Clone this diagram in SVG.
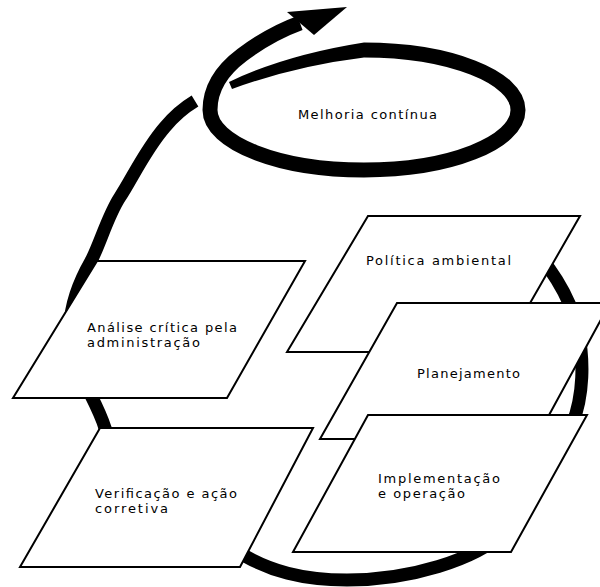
<svg xmlns="http://www.w3.org/2000/svg" width="600" height="587" viewBox="0 0 600 587">
<style>
.box{fill:#fff;stroke:#000;stroke-width:2;stroke-linejoin:miter}
.lbl{font-family:"DejaVu Sans","Liberation Sans",Arial,sans-serif;font-size:13px;fill:#000}
.loop{fill:none;stroke:#000;stroke-linecap:butt}
.ink{fill:#000;stroke:none}
</style>
<rect width="600" height="587" fill="#fff"/>
<g id="connectors">
  <path id="cycle" class="loop" stroke-width="13" d="M 522,238 C 548,262 570,295 578,330 C 584,360 584,395 572,425 C 556,455 538,498 505,532 C 475,560 410,580 347,580 C 300,580 270,570 245,556 C 215,539 118,470 105,428 C 95,395 68,365 70,325 C 71,305 79,282 91,261 C 100,244 108,215 120,197 C 132,179 145,150 165,127 C 175,115 185,107 195,101"/>
  <path id="spiral" class="loop" stroke-width="15" d="M 364,50 C 449,50 518,77 518,110 C 518,143 449,170 364,170 C 279,170 210,143 210,110 C 210,88 222,70 242,55 C 258,43 278,31 300,23"/>
  <path id="spiral-taper" class="ink" d="M 229,82 Q 285,55 364,42.5 L 364,57.5 Q 295,66 232,89 Z"/>
  <polygon id="arrowhead" class="ink" points="287,12 347,7 314,35"/>
</g>
<g id="melhoria">
  <text class="lbl" x="298" y="119" textLength="139" lengthAdjust="spacing">Melhoria contínua</text>
</g>
<g id="analise">
  <polygon class="box" points="97,261 305,261 227,398 13,398"/>
  <text class="lbl" x="87" y="332" textLength="150" lengthAdjust="spacing">Análise crítica pela</text>
  <text class="lbl" x="87" y="347" textLength="113" lengthAdjust="spacing">administração</text>
</g>
<g id="verificacao">
  <polygon class="box" points="100,428 313,428 240,567 20,567"/>
  <text class="lbl" x="95" y="498" textLength="142" lengthAdjust="spacing">Verificação e ação</text>
  <text class="lbl" x="95" y="513" textLength="73" lengthAdjust="spacing">corretiva</text>
</g>
<g id="politica">
  <polygon class="box" points="368,216 580,216 502,352 287,352"/>
  <text class="lbl" x="366" y="265" textLength="145" lengthAdjust="spacing">Política ambiental</text>
</g>
<g id="planejamento">
  <polygon class="box" points="397,303 610,303 536,439 320,439"/>
  <text class="lbl" x="417" y="378" textLength="103" lengthAdjust="spacing">Planejamento</text>
</g>
<g id="implementacao">
  <polygon class="box" points="368,415 587,415 511,552 293,552"/>
  <text class="lbl" x="378" y="483" textLength="122" lengthAdjust="spacing">Implementação</text>
  <text class="lbl" x="378" y="498" textLength="87" lengthAdjust="spacing">e operação</text>
</g>
</svg>
